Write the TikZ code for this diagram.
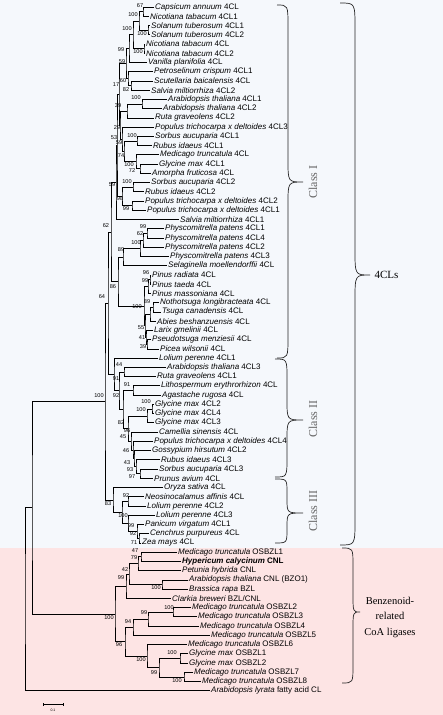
\documentclass[tikz,border=0pt]{standalone}
\usepackage{fontspec}
\setmainfont{Liberation Serif}
\newfontfamily\arialfont{Liberation Sans}
\usetikzlibrary{calc}

\definecolor{upperbg}{HTML}{F5F8FC}
\definecolor{lowerbg}{HTML}{FDE4E4}

\tikzset{
  leaf/.style={anchor=west, inner xsep=1pt, inner ysep=0pt, font=\arialfont\fontsize{8}{9}\selectfont},
  boot/.style={inner sep=0pt, font=\arialfont\fontsize{5.6}{6}\selectfont},
  branch/.style={line width=0.7pt},
  bracepath/.style={line width=0.7pt, black!85},
  grouplabel/.style={font=\fontsize{11}{12}\selectfont},
  classlabel/.style={font=\fontsize{12}{13}\selectfont, text=black!60, rotate=90},
}

% internal node: name, x, upper child, lower child
\newcommand{\clade}[4]{%
  \path ($(#3)!0.5!(#4)$) coordinate (mid);
  \coordinate (#1) at (#2,0 |- mid);
  \draw[branch] (#3) -| (#1) |- (#4);
}

% curly brace: x end, x spine, x tip, y top, y tip, y bottom, curl length
\newcommand{\grpbrace}[7]{%
  \draw[bracepath] (#1,#4) .. controls (#2,#4) .. (#2,#4+#7)
    -- (#2,#5-#7) .. controls (#2,#5) .. (#3,#5)
    .. controls (#2,#5) .. (#2,#5+#7)
    -- (#2,#6-#7) .. controls (#2,#6) .. (#1,#6);
}

\begin{document}
\begin{tikzpicture}[x=1pt, y=-1pt, declare function={ty(\i)=7+(\i-1)*9.24;}]

    \useasboundingbox (0,0) rectangle (443,715);

    % Backgrounds
    \fill[upperbg] (0,0) rectangle (443,547.5);
    \fill[lowerbg] (0,547.5) rectangle (443,715);

    % Leaves (species / gene / x of text)
    \foreach \sp/\tag/\x [count=\i] in {
      Capsicum annuum/4CL/156, Nicotiana tabacum/4CL1/151,
      Solanum tuberosum/4CL1/152, Solanum tuberosum/4CL2/152,
      Nicotiana tabacum/4CL/147, Nicotiana tabacum/4CL2/147,
      Vanilla planifolia/4CL/149, Petroselinum crispum/4CL1/155,
      Scutellaria baicalensis/4CL/155, Salvia miltiorrhiza/4CL2/152,
      Arabidopsis thaliana/4CL1/169, Arabidopsis thaliana/4CL2/164,
      Ruta graveolens/4CL2/156, Populus trichocarpa x deltoides/4CL3/156,
      Sorbus aucuparia/4CL1/156, Rubus idaeus/4CL1/154,
      Medicago truncatula/4CL/161, Glycine max/4CL1/160,
      Amorpha fruticosa/4CL/153, Sorbus aucuparia/4CL2/152,
      Rubus idaeus/4CL2/146, Populus trichocarpa x deltoides/4CL2/146,
      Populus trichocarpa x deltoides/4CL1/148, Salvia miltiorrhiza/4CL1/181,
      Physcomitrella patens/4CL1/166, Physcomitrella patens/4CL4/166,
      Physcomitrella patens/4CL2/166, Physcomitrella patens/4CL3/171,
      Selaginella moellendorffii/4CL/169, Pinus radiata/4CL/153,
      Pinus taeda/4CL/153, Pinus massoniana/4CL/153,
      Nothotsuga longibracteata/4CL/161, Tsuga canadensis/4CL/163,
      Abies beshanzuensis/4CL/158, Larix gmelinii/4CL/155,
      Pseudotsuga menziesii/4CL/153, Picea wilsonii/4CL/161,
      Lolium perenne/4CL1/160, Arabidopsis thaliana/4CL3/168,
      Ruta graveolens/4CL1/158, Lithospermum erythrorhizon/4CL/162,
      Agastache rugosa/4CL/163, Glycine max/4CL2/156,
      Glycine max/4CL4/156, Glycine max/4CL3/156,
      Camellia sinensis/4CL/160, Populus trichocarpa x deltoides/4CL4/155,
      Gossypium hirsutum/4CL2/153, Rubus idaeus/4CL3/162,
      Sorbus aucuparia/4CL3/160, Prunus avium/4CL/155,
      Oryza sativa/4CL/165, Neosinocalamus affinis/4CL/146,
      Lolium perenne/4CL2/148, Lolium perenne/4CL3/157,
      Panicum virgatum/4CL1/146, Cenchrus purpureus/4CL/151,
      Zea mays/4CL/143, Medicago truncatula/OSBZL1/179,
      {\bfseries Hypericum calycinum}/{\bfseries CNL}/183, Petunia hybrida/CNL/183,
      Arabidopsis thaliana/CNL (BZO1)/190, Brassica rapa/BZL/190,
      Clarkia breweri/{BZL/CNL}/173, Medicago truncatula/OSBZL2/193,
      Medicago truncatula/OSBZL3/199, Medicago truncatula/OSBZL4/201,
      Medicago truncatula/OSBZL5/212, Medicago truncatula/OSBZL6/189,
      Glycine max/OSBZL1/190, Glycine max/OSBZL2/190,
      Medicago truncatula/OSBZL7/195, Medicago truncatula/OSBZL8/203,
      Arabidopsis lyrata/fatty acid CL/212}
      \node[leaf] (L\i) at (\x-2,{ty(\i)}) {\textit{\sp} \tag};

    % Class I (angiosperms)
    \foreach \n/\x/\a/\b in {
      n1/143/L1/L2, n2/148/L3/L4, n3/139/n1/n2, n4/144/L5/L6,
      n5/133/n3/n4, n6/129/n5/L7, n7/131/L9/L10, n8/128/L8/n7,
      n9/126/n6/n8, n10/142/L11/L12, n11/127/n10/L13, n12/137/L15/L16,
      n13/140/L18/L19, n14/136/L17/n13, n15/124/n12/n14, n16/122/L14/n15,
      n17/133/L20/L21, n18/132/L22/L23, n19/122/n17/n18, n20/120/n11/n16,
      n21/119/n9/n20, n22/117/n21/n19, n23/116/n22/L24}
      \clade{\n}{\x}{\a}{\b};

    % Class I (mosses, lycophyte, conifers)
    \foreach \n/\x/\a/\b in {
      p1/147/L25/L26, p2/143/p1/L27, p3/140/p2/L28, p4/123/p3/L29,
      c1/150/L30/L31, c2/148/c1/L32, c3/153/L33/L34, c4/150/c3/L35,
      c5/147/L37/L38, c6/146/L36/c5, c7/145/c4/c6, c8/144/c2/c7,
      p5/118/p4/c8, n62/111/n23/p5}
      \clade{\n}{\x}{\a}{\b};

    % Class II and Class III
    \foreach \n/\x/\a/\b in {
      d1/124/L40/L41, d2/133/L42/L43, g1/152/L44/L45, g2/147/g1/L46,
      e1/140/L51/L52, e2/136/L50/e1, e3/134/L49/e2, e4/133/L48/e3,
      e5/131/L47/e4, e6/128/g2/e5, d3/123/d2/e6, d4/119/d1/d3,
      d5/114/L39/d4, n64/108/n62/d5,
      f1/128/L54/L55, f3/139/L58/L59, f4/137/L57/f3, f5/128/L56/f4,
      f6/122/f1/f5, f7/113/L53/f6, nC/105/n64/f7}
      \clade{\n}{\x}{\a}{\b};

    % Benzenoid-related CoA ligases and root
    \foreach \n/\x/\a/\b in {
      h1/141/L60/L61, h2/138/h1/L62, hA/162/L63/L64, h3/129/h2/hA,
      h4/126/h3/L65, m1/173/L66/L67, m2/148/m1/L68, m3/133/m2/L69,
      q1/180/L71/L72, q2/184/L73/L74, q3/159/q1/q2, q4/147/L70/q3,
      m4/125/m3/q4, b0/115/h4/m4, g0/32/nC/b0, rt/25/g0/L75}
      \clade{\n}{\x}{\a}{\b};

    % Bootstrap values
    \foreach \x/\y/\v [count=\k] in {
      140/6/67, 133/15/100, 127/29/100, 142/34/100, 121/50/99, 138/52/100,
      122/62/59, 123/81/60, 116/85/17, 126/90/82, 136/98/100, 118/106/39,
      117/128/29, 114/138/53, 132/136/100, 119/143/59, 121/156/74,
      129/165/100, 132/171/72, 112/185/59, 127/182/100, 120/199/98,
      126/209/99, 106/226/62, 143/227/99, 140/234/62, 136/243/100,
      121/250/89, 113/287/86, 102/297/64, 146/273/96, 145/281/99,
      147/302/89, 137/307/100, 141/328/55, 142/338/41, 143/347/39,
      119/365/44, 116/379/91, 127/385/91, 116/396/92, 99/396/100,
      146/402/100, 141/410/100, 121/423/82, 127/431/96, 123/437/45,
      126/451/46, 127/463/43, 130/470/93, 132/477/97,
      108/504/83, 126/496/92, 123/516/100, 131/526/99, 133/534/92, 134/543/71,
      135/551/47, 134/558/79, 125/570/42, 121/578/99, 156/588/100,
      109/618/100, 144/613/99, 169/608/100, 128/622/94, 119/645/96,
      172/653/100, 141/660/100, 154/673/99, 177/681/100}
      \node[boot] (bs\k) at (\x,\y) {\v};

    % Scale bar
    \coordinate (sbL) at (43,704.5);
    \coordinate (sbR) at (63,704.5);
    \draw[line width=0.5pt] ($(sbL)+(0,-1.5)$) -- ($(sbL)+(0,1.5)$);
    \draw[line width=0.5pt] ($(sbR)+(0,-1.5)$) -- ($(sbR)+(0,1.5)$);
    \draw[line width=0.5pt] (sbL) -- (sbR);
    \node[inner sep=0pt, font=\arialfont\fontsize{3.5}{4}\selectfont] (sbtext) at (53,710) {0.1};

    % Class braces
    \grpbrace{277}{288}{303}{5}{182}{358}{22}
    \node[classlabel] (cI) at (313,182) {Class I};
    \grpbrace{275}{287}{303}{359}{420}{477}{20}
    \node[classlabel] (cII) at (313,419) {Class II};
    \grpbrace{275}{287}{303}{479}{513}{543}{14}
    \node[classlabel] (cIII) at (313,511) {Class III};

    % Group braces
    \grpbrace{340}{355}{370}{3}{275}{545}{25}
    \node[grouplabel, anchor=west] (fourcl) at (371,275) {4CLs};
    \grpbrace{342}{353}{360}{548}{612}{683}{18}
    \node[grouplabel, align=center, font=\fontsize{10.5}{15.5}\selectfont] (benz) at (390,617) {Benzenoid-\\related\\CoA ligases};

\end{tikzpicture}
\end{document}
